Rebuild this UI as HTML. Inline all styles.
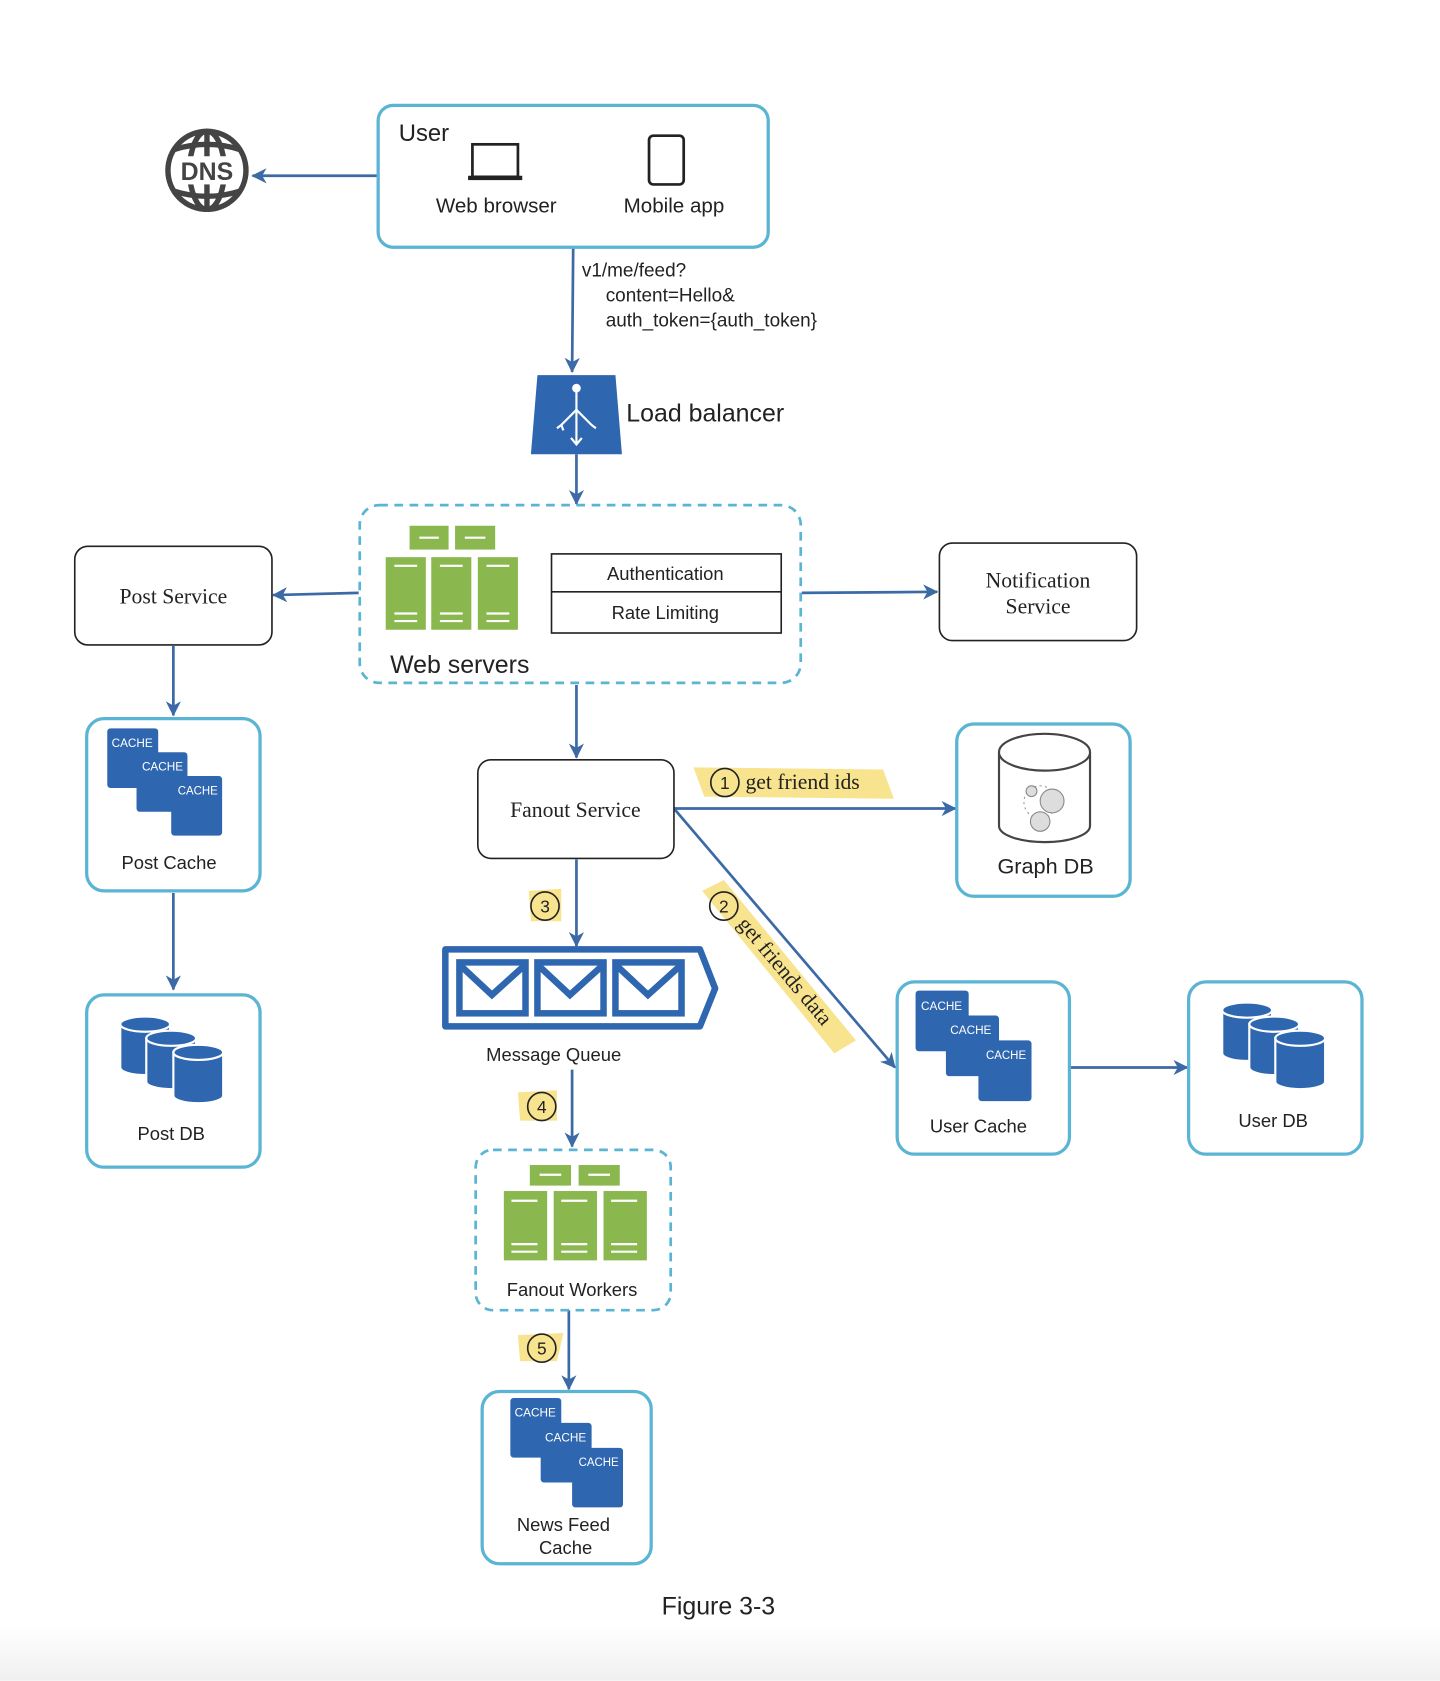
<!DOCTYPE html>
<html><head><meta charset="utf-8"><style>
html,body{margin:0;padding:0;background:#fff;}
svg{display:block;}
text{font-family:"Liberation Sans",sans-serif;fill:#222;}
.serif{font-family:"Liberation Serif",serif;}
.c{font-family:"Liberation Sans",sans-serif;font-size:11px;fill:#fff;}
</style></head><body>
<svg width="1440" height="1681" viewBox="0 0 1329 1551" xmlns="http://www.w3.org/2000/svg">
<defs>
<marker id="a" markerWidth="14" markerHeight="14" refX="13" refY="7" orient="auto" markerUnits="userSpaceOnUse"><path d="M0,0 L14,7 L0,14 L4,7 Z" fill="#3c6aa6"/></marker>
<linearGradient id="bg" x1="0" y1="0" x2="0" y2="1"><stop offset="0" stop-color="#fff"/><stop offset="1" stop-color="#f0f0f0"/></linearGradient>
</defs>
<rect x="0" y="1500" width="1329" height="51" fill="url(#bg)"/>
<g stroke="#3c6aa6" stroke-width="2.5" fill="none" marker-end="url(#a)">
<line x1="348" y1="162" x2="233" y2="162"/>
<line x1="529" y1="229" x2="528" y2="343"/>
<line x1="532" y1="419" x2="532" y2="465"/>
<line x1="331" y1="547" x2="252" y2="549"/>
<line x1="740" y1="547" x2="865" y2="546"/>
<line x1="532" y1="632" x2="532" y2="699"/>
<line x1="622" y1="746" x2="882" y2="746"/>
<line x1="622" y1="746" x2="826" y2="985"/>
<line x1="160" y1="596" x2="160" y2="660"/>
<line x1="160" y1="824" x2="160" y2="913"/>
<line x1="532" y1="793" x2="532" y2="873"/>
<line x1="528" y1="987" x2="528" y2="1058"/>
<line x1="525" y1="1209" x2="525" y2="1282"/>
<line x1="987" y1="985" x2="1096" y2="985"/>
</g>
<!-- DNS -->
<g stroke="#444" stroke-width="5" fill="none">
<circle cx="191" cy="157" r="36"/>
<ellipse cx="191" cy="157" rx="16" ry="36"/>
<line x1="191" y1="121" x2="191" y2="193"/>
<path d="M160,138 Q191,128 222,138 M160,176 Q191,186 222,176"/>
</g>
<rect x="163" y="144" width="56" height="26" fill="#fff"/>
<text x="191" y="166" text-anchor="middle" font-size="23" font-weight="bold" style="fill:#444">DNS</text>
<!-- User box -->
<rect x="349" y="97" width="360" height="131" rx="14" fill="#fff" stroke="#5ab4d3" stroke-width="3"/>
<text x="368" y="130" font-size="22">User</text>
<rect x="436" y="133" width="42" height="30" fill="none" stroke="#222" stroke-width="2.5"/>
<rect x="432" y="162" width="50" height="4" fill="#222"/>
<rect x="599" y="125" width="32" height="45" rx="4" fill="none" stroke="#222" stroke-width="2.5"/>
<text x="458" y="196" text-anchor="middle" font-size="19">Web browser</text>
<text x="622" y="196" text-anchor="middle" font-size="19">Mobile app</text>
<text x="537" y="255" font-size="17.5">v1/me/feed?</text>
<text x="559" y="278" font-size="17.5">content=Hello&amp;</text>
<text x="559" y="301" font-size="17.5">auth_token={auth_token}</text>
<!-- Load balancer -->
<path d="M496,346 L568,346 L574,419 L490,419 Z" fill="#2f66b0"/>
<g stroke="#fff" stroke-width="2" fill="none"><line x1="532" y1="360" x2="532" y2="410"/><path d="M532,378 L518,392 M532,378 L546,392 M514,395 L518,392 L520,397 M550,395 L546,392 M527,404 L532,410 L537,404"/></g>
<circle cx="532" cy="358" r="4" fill="#fff"/>
<text x="578" y="389" font-size="23">Load balancer</text>
<!-- Web servers -->
<rect x="332" y="466" width="407" height="164" rx="18" fill="none" stroke="#5ab4d3" stroke-width="2.5" stroke-dasharray="8,6"/>
<g fill="#8ab84f">
<rect x="378" y="485" width="36" height="22"/><rect x="420" y="485" width="37" height="22"/>
<rect x="356" y="514" width="37" height="67"/><rect x="398" y="514" width="37" height="67"/><rect x="441" y="514" width="37" height="67"/>
</g>
<g stroke="#fff" stroke-width="2"><line x1="387" y1="496" x2="405" y2="496"/><line x1="429" y1="496" x2="448" y2="496"/>
<line x1="364" y1="522" x2="385" y2="522"/><line x1="406" y1="522" x2="427" y2="522"/><line x1="449" y1="522" x2="470" y2="522"/>
<line x1="364" y1="566" x2="385" y2="566"/><line x1="406" y1="566" x2="427" y2="566"/><line x1="449" y1="566" x2="470" y2="566"/>
<line x1="364" y1="573" x2="385" y2="573"/><line x1="406" y1="573" x2="427" y2="573"/><line x1="449" y1="573" x2="470" y2="573"/></g>
<rect x="509" y="511" width="212" height="73" fill="none" stroke="#222" stroke-width="1.5"/>
<line x1="509" y1="546" x2="721" y2="546" stroke="#222" stroke-width="1.5"/>
<text x="614" y="535" text-anchor="middle" font-size="17">Authentication</text>
<text x="614" y="571" text-anchor="middle" font-size="17">Rate Limiting</text>
<text x="360" y="621" font-size="23">Web servers</text>
<!-- Post Service -->
<rect x="69" y="504" width="182" height="91" rx="12" fill="#fff" stroke="#222" stroke-width="1.5"/>
<text class="serif" x="160" y="557" text-anchor="middle" font-size="20">Post Service</text>
<!-- Notification -->
<rect x="867" y="501" width="182" height="90" rx="12" fill="#fff" stroke="#222" stroke-width="1.5"/>
<text class="serif" x="958" y="542" text-anchor="middle" font-size="20">Notification</text>
<text class="serif" x="958" y="566" text-anchor="middle" font-size="20">Service</text>
<!-- Fanout -->
<rect x="441" y="701" width="181" height="91" rx="12" fill="#fff" stroke="#222" stroke-width="1.5"/>
<text class="serif" x="531" y="754" text-anchor="middle" font-size="20">Fanout Service</text>
<!-- highlights -->
<path d="M640,708 L815,710 L825,737 L650,735 Z" fill="#f7df7a" opacity="0.85"/>
<path d="M648,822 L668,812 L790,960 L770,972 Z" fill="#f7df7a" opacity="0.85"/>
<path d="M488,822 L518,820 L518,850 L490,850 Z" fill="#f7df7a" opacity="0.85"/>
<path d="M478,1008 L514,1006 L514,1034 L480,1034 Z" fill="#f7df7a" opacity="0.85"/>
<path d="M478,1232 L520,1230 L514,1256 L480,1256 Z" fill="#f7df7a" opacity="0.85"/>
<g fill="none" stroke="#222" stroke-width="1.5">
<circle cx="669" cy="722" r="13"/><circle cx="668" cy="836" r="13"/><circle cx="503" cy="836" r="13"/><circle cx="500" cy="1021" r="13"/><circle cx="500" cy="1244" r="13"/></g>
<g font-size="16" text-anchor="middle"><text x="669" y="728">1</text><text x="668" y="842">2</text><text x="503" y="842">3</text><text x="500" y="1027">4</text><text x="500" y="1250">5</text></g>
<text class="serif" x="688" y="728" font-size="20">get friend ids</text>
<text class="serif" font-size="20" transform="translate(680,853) rotate(50)">get friends data</text>
<!-- Graph DB -->
<rect x="883" y="668" width="160" height="159" rx="16" fill="#fff" stroke="#5ab4d3" stroke-width="3"/>
<path d="M922,694 L922,762 A42,15 0 0 0 1006,762 L1006,694" fill="#fff" stroke="#444" stroke-width="2"/>
<ellipse cx="964" cy="694" rx="42" ry="17" fill="#fff" stroke="#444" stroke-width="2"/>
<circle cx="960" cy="740" r="15" fill="none" stroke="#999" stroke-dasharray="2,3"/>
<circle cx="971" cy="739" r="11" fill="#ddd" stroke="#888"/><circle cx="960" cy="758" r="9" fill="#ddd" stroke="#888"/><circle cx="952" cy="730" r="5" fill="#ddd" stroke="#888"/>
<text x="965" y="806" text-anchor="middle" font-size="20">Graph DB</text>
<!-- Post Cache -->
<rect x="80" y="663" width="160" height="159" rx="16" fill="#fff" stroke="#5ab4d3" stroke-width="3"/>
<g fill="#2f66b0"><rect x="99" y="672" width="47" height="55" rx="3"/><rect x="126" y="694" width="47" height="55" rx="3"/><rect x="158" y="716" width="47" height="55" rx="3"/></g>
<text class="c" x="103" y="689" textLength="38" lengthAdjust="spacingAndGlyphs">CACHE</text><text class="c" x="131" y="711" textLength="38" lengthAdjust="spacingAndGlyphs">CACHE</text><text class="c" x="164" y="733" textLength="37" lengthAdjust="spacingAndGlyphs">CACHE</text>
<text x="156" y="802" text-anchor="middle" font-size="17">Post Cache</text>
<!-- Post DB -->
<rect x="80" y="918" width="160" height="159" rx="16" fill="#fff" stroke="#5ab4d3" stroke-width="3"/>
<g fill="#2f66b0" stroke="#fff" stroke-width="2">
<path d="M111,945 L111,985 A23,7 0 0 0 157,985 L157,945 Z"/><ellipse cx="134" cy="945" rx="23" ry="7"/>
<path d="M135,958 L135,998 A23,7 0 0 0 181,998 L181,958 Z"/><ellipse cx="158" cy="958" rx="23" ry="7"/>
<path d="M160,971 L160,1011 A23,7 0 0 0 206,1011 L206,971 Z"/><ellipse cx="183" cy="971" rx="23" ry="7"/>
</g>
<text x="158" y="1052" text-anchor="middle" font-size="17">Post DB</text>
<!-- Message queue -->
<path d="M411,876 L646,876 L660,912 L646,947 L411,947 Z" fill="#fff" stroke="#2f66b0" stroke-width="6" stroke-linejoin="round"/>
<g fill="none" stroke="#2f66b0" stroke-width="6">
<rect x="424" y="888" width="61" height="47"/><rect x="496" y="888" width="61" height="47"/><rect x="568" y="888" width="61" height="47"/>
<path d="M424,890 L454,918 L485,890 M496,890 L526,918 L557,890 M568,890 L598,918 L629,890"/></g>
<text x="511" y="979" text-anchor="middle" font-size="17">Message Queue</text>
<!-- Fanout workers -->
<rect x="439" y="1061" width="180" height="148" rx="16" fill="none" stroke="#5ab4d3" stroke-width="2.5" stroke-dasharray="8,6"/>
<g fill="#8ab84f">
<rect x="489" y="1075" width="38" height="19"/><rect x="534" y="1075" width="38" height="19"/>
<rect x="465" y="1099" width="40" height="64"/><rect x="511" y="1099" width="40" height="64"/><rect x="557" y="1099" width="40" height="64"/>
</g>
<g stroke="#fff" stroke-width="2"><line x1="498" y1="1084" x2="518" y2="1084"/><line x1="543" y1="1084" x2="563" y2="1084"/>
<line x1="472" y1="1108" x2="496" y2="1108"/><line x1="518" y1="1108" x2="542" y2="1108"/><line x1="564" y1="1108" x2="588" y2="1108"/>
<line x1="472" y1="1148" x2="496" y2="1148"/><line x1="518" y1="1148" x2="542" y2="1148"/><line x1="564" y1="1148" x2="588" y2="1148"/>
<line x1="472" y1="1155" x2="496" y2="1155"/><line x1="518" y1="1155" x2="542" y2="1155"/><line x1="564" y1="1155" x2="588" y2="1155"/></g>
<text x="528" y="1196" text-anchor="middle" font-size="17">Fanout Workers</text>
<!-- News feed cache -->
<rect x="445" y="1284" width="156" height="159" rx="16" fill="#fff" stroke="#5ab4d3" stroke-width="3"/>
<g fill="#2f66b0"><rect x="471" y="1290" width="47" height="55" rx="3"/><rect x="499" y="1313" width="47" height="55" rx="3"/><rect x="528" y="1336" width="47" height="55" rx="3"/></g>
<text class="c" x="475" y="1307" textLength="38" lengthAdjust="spacingAndGlyphs">CACHE</text><text class="c" x="503" y="1330" textLength="38" lengthAdjust="spacingAndGlyphs">CACHE</text><text class="c" x="534" y="1353" textLength="37" lengthAdjust="spacingAndGlyphs">CACHE</text>
<text x="520" y="1413" text-anchor="middle" font-size="17">News Feed</text>
<text x="522" y="1434" text-anchor="middle" font-size="17">Cache</text>
<!-- User cache -->
<rect x="828" y="906" width="159" height="159" rx="16" fill="#fff" stroke="#5ab4d3" stroke-width="3"/>
<g fill="#2f66b0"><rect x="845" y="914" width="49" height="56" rx="3"/><rect x="873" y="937" width="49" height="56" rx="3"/><rect x="903" y="960" width="49" height="56" rx="3"/></g>
<text class="c" x="850" y="932" textLength="38" lengthAdjust="spacingAndGlyphs">CACHE</text><text class="c" x="877" y="954" textLength="38" lengthAdjust="spacingAndGlyphs">CACHE</text><text class="c" x="910" y="977" textLength="37" lengthAdjust="spacingAndGlyphs">CACHE</text>
<text x="903" y="1045" text-anchor="middle" font-size="17">User Cache</text>
<!-- User DB -->
<rect x="1097" y="906" width="160" height="159" rx="16" fill="#fff" stroke="#5ab4d3" stroke-width="3"/>
<g fill="#2f66b0" stroke="#fff" stroke-width="2">
<path d="M1128,932 L1128,972 A23,7 0 0 0 1174,972 L1174,932 Z"/><ellipse cx="1151" cy="932" rx="23" ry="7"/>
<path d="M1153,945 L1153,985 A23,7 0 0 0 1199,985 L1199,945 Z"/><ellipse cx="1176" cy="945" rx="23" ry="7"/>
<path d="M1177,958 L1177,998 A23,7 0 0 0 1223,998 L1223,958 Z"/><ellipse cx="1200" cy="958" rx="23" ry="7"/>
</g>
<text x="1175" y="1040" text-anchor="middle" font-size="17">User DB</text>
<text x="663" y="1490" text-anchor="middle" font-size="23">Figure 3-3</text>
</svg>
</body></html>
